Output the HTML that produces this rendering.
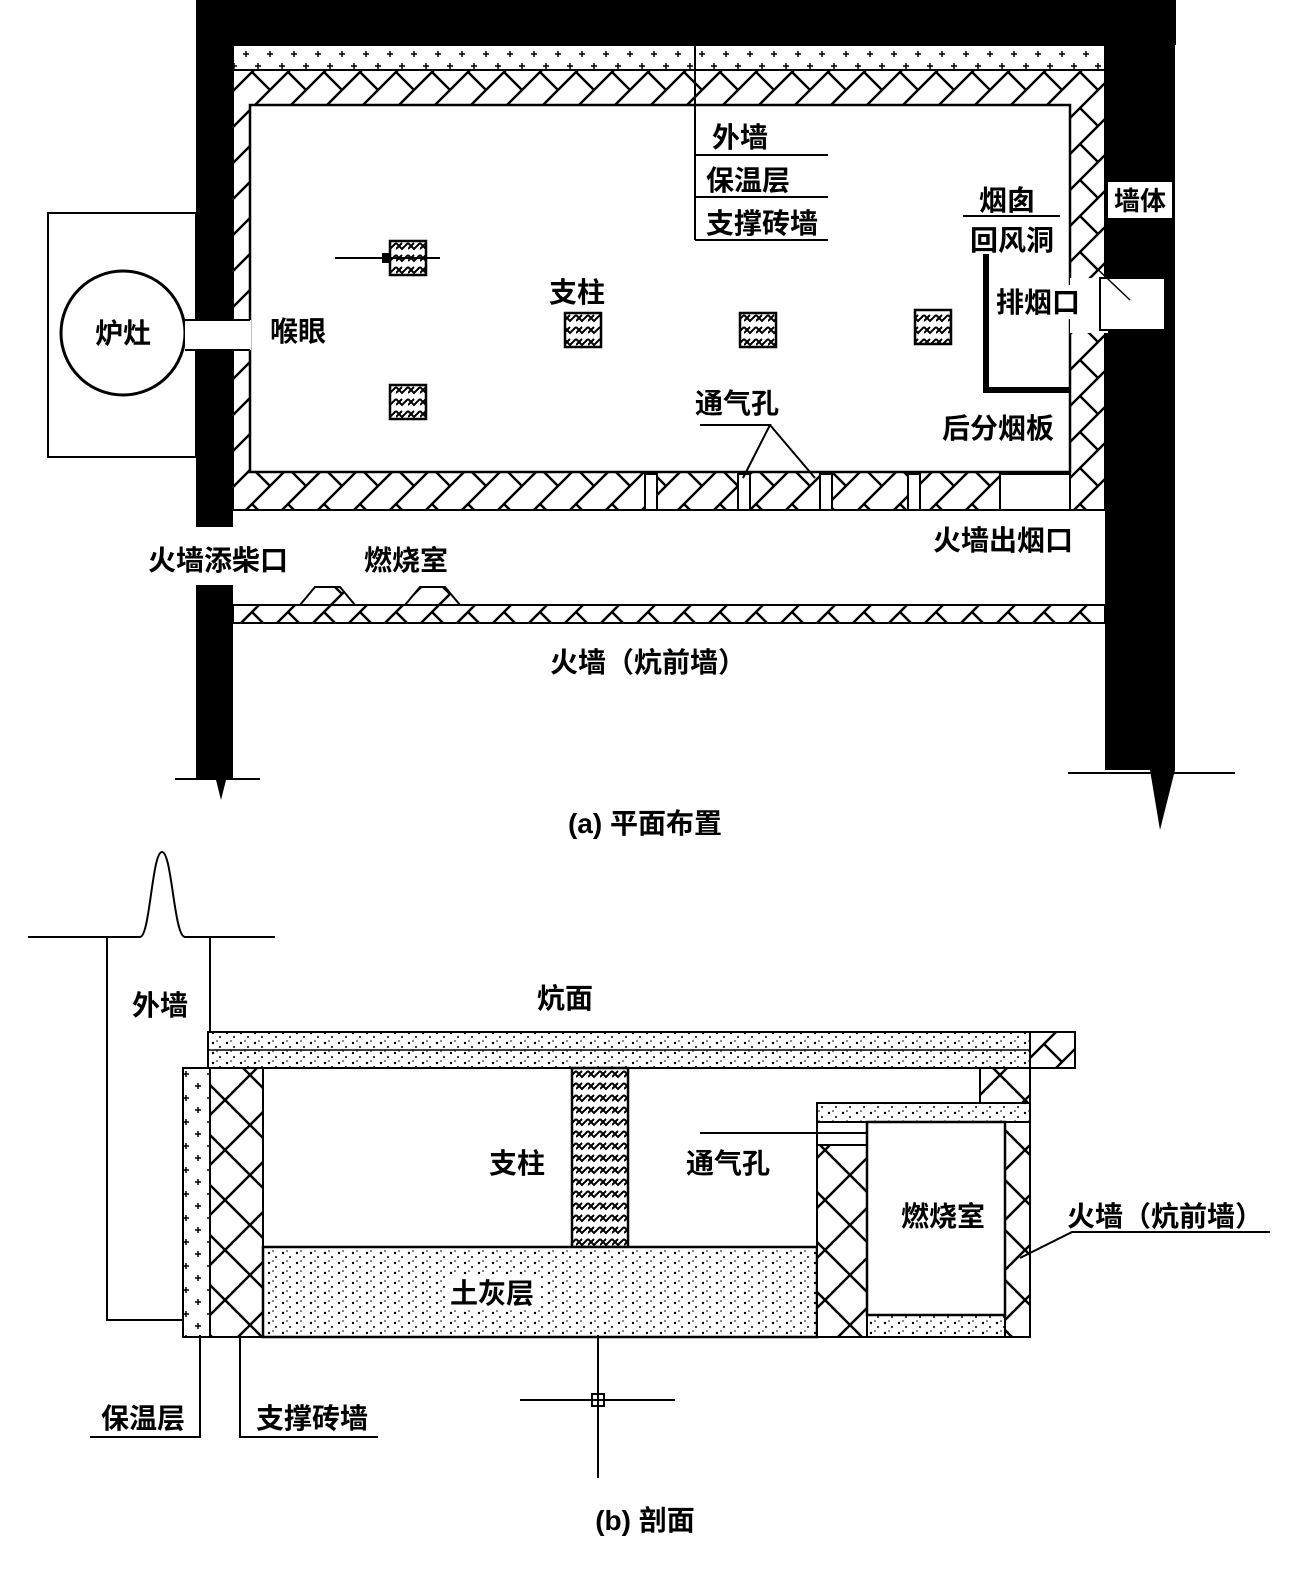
<!DOCTYPE html>
<html><head><meta charset="utf-8"><style>
html,body{margin:0;padding:0;background:#fff;}
svg{display:block;}
text{font-family:"Liberation Sans","Noto Sans CJK SC",sans-serif;font-weight:bold;fill:#000;}
</style></head><body>
<svg width="1304" height="1589" viewBox="0 0 1304 1589" xmlns="http://www.w3.org/2000/svg">
<defs>
<pattern id="hatch" width="36" height="36" patternUnits="userSpaceOnUse">
<rect width="36" height="36" fill="#fff"/>
<path d="M0 36 L36 0 M-9 9 L9 -9 M27 45 L45 27" stroke="#000" stroke-width="2.5"/>
<path d="M0 0 L18 18" stroke="#000" stroke-width="2.5"/>
</pattern>
<pattern id="hatchV" width="50" height="50" patternUnits="userSpaceOnUse">
<rect width="50" height="50" fill="#fff"/>
<path d="M0 25 L25 0 L50 25 L25 50 Z" stroke="#000" stroke-width="2.5" fill="none"/>
</pattern>
<pattern id="dots" width="14" height="10" patternUnits="userSpaceOnUse">
<rect width="14" height="10" fill="#fff"/>
<circle cx="3" cy="3" r="1.2" fill="#000"/><circle cx="10" cy="7" r="1" fill="#000"/><circle cx="7" cy="1" r="0.8" fill="#000"/>
</pattern>
<pattern id="plus" width="24" height="24" patternUnits="userSpaceOnUse">
<rect width="24" height="24" fill="#fff"/>
<path d="M6 3v6M3 6h6M18 15v6M15 18h6" stroke="#000" stroke-width="1.5"/>
</pattern>
<pattern id="herr" width="12" height="12" patternUnits="userSpaceOnUse">
<rect width="12" height="12" fill="#fff"/>
<path d="M0 3 L6 9 L12 3 M0 9 L6 3" stroke="#000" stroke-width="2" fill="none"/>
</pattern>
</defs>

<!-- ============ (a) plan ============ -->
<!-- black walls -->
<rect x="196" y="0" width="980" height="45" fill="#000"/>
<rect x="196" y="0" width="37" height="527" fill="#000"/>
<rect x="196" y="585" width="37" height="195" fill="#000"/>
<polygon points="196,780 233,780 226,780 221,800 216,780" fill="#000"/>
<line x1="175" y1="779" x2="260" y2="779" stroke="#000" stroke-width="2"/>
<rect x="1105" y="0" width="70" height="770" fill="#000"/>
<polygon points="1105,770 1175,770 1160,830 1150,770 1140,770" fill="#000"/>
<line x1="1068" y1="773" x2="1235" y2="773" stroke="#000" stroke-width="2"/>
<!-- insulation -->
<rect x="233" y="45" width="872" height="25" fill="url(#plus)" stroke="#000" stroke-width="2"/>
<!-- brick layer -->
<rect x="233" y="70" width="872" height="440" fill="url(#hatch)" stroke="#000" stroke-width="2"/>
<rect x="250" y="105" width="820" height="367" fill="#fff" stroke="#000" stroke-width="2.5"/>
<!-- bottom vent gaps -->
<g stroke="#000" stroke-width="2">
<rect x="645" y="474" width="12" height="36" fill="#fff"/>
<rect x="738" y="474" width="12" height="36" fill="#fff"/>
<rect x="820" y="474" width="12" height="36" fill="#fff"/>
<rect x="908" y="474" width="12" height="36" fill="#fff"/>
<rect x="1000" y="474" width="70" height="36" fill="#fff"/>
</g>
<!-- right opening -->
<rect x="1070" y="278" width="38" height="55" fill="#fff"/>
<rect x="1100" y="278" width="65" height="52" fill="#fff" stroke="#000" stroke-width="2"/>
<line x1="1090" y1="262" x2="1130" y2="300" stroke="#000" stroke-width="1.5"/>
<rect x="1108" y="182" width="64" height="36" fill="#fff"/>
<text x="1140" y="210" font-size="26" text-anchor="middle">墙体</text>
<!-- 后分烟板 -->
<path d="M986 250 V390 H1070" stroke="#000" stroke-width="6" fill="none"/>
<!-- stove -->
<rect x="48" y="213" width="148" height="244" fill="#fff" stroke="#000" stroke-width="2"/>
<circle cx="123" cy="333" r="62" fill="#fff" stroke="#000" stroke-width="3"/>
<text x="123" y="343" font-size="28" text-anchor="middle">炉灶</text>
<rect x="185" y="320" width="66" height="30" fill="#fff"/>
<line x1="185" y1="320" x2="250" y2="320" stroke="#000" stroke-width="2"/>
<line x1="185" y1="350" x2="250" y2="350" stroke="#000" stroke-width="2"/>
<!-- pillars -->
<g stroke="#000" stroke-width="2.5" fill="url(#herr)">
<rect x="390" y="241" width="36" height="34"/>
<rect x="565" y="313" width="36" height="34"/>
<rect x="740" y="313" width="36" height="34"/>
<rect x="915" y="310" width="36" height="34"/>
<rect x="390" y="385" width="36" height="34"/>
</g>
<line x1="335" y1="258" x2="440" y2="258" stroke="#000" stroke-width="2"/>
<rect x="382" y="253" width="8" height="10" fill="#000"/>
<!-- labels -->
<line x1="695" y1="0" x2="695" y2="240" stroke="#000" stroke-width="2"/>
<g stroke="#000" stroke-width="2">
<line x1="695" y1="155" x2="828" y2="155"/>
<line x1="695" y1="197" x2="828" y2="197"/>
<line x1="695" y1="240" x2="828" y2="240"/>
</g>
<rect x="700" y="115" width="128" height="39" fill="#fff"/>
<rect x="698" y="158" width="128" height="37" fill="#fff"/>
<rect x="698" y="200" width="128" height="38" fill="#fff"/>
<text x="740" y="147" font-size="28" text-anchor="middle">外墙</text>
<text x="748" y="190" font-size="28" text-anchor="middle">保温层</text>
<text x="762" y="233" font-size="28" text-anchor="middle">支撑砖墙</text>
<text x="577" y="302" font-size="28" text-anchor="middle">支柱</text>
<text x="298" y="341" font-size="28" text-anchor="middle">喉眼</text>
<text x="737" y="413" font-size="28" text-anchor="middle">通气孔</text>
<path d="M700 425 H770 L743 478 M770 425 L815 478" stroke="#000" stroke-width="2" fill="none"/>
<rect x="935" y="408" width="130" height="34" fill="#fff"/>
<text x="998" y="438" font-size="28" text-anchor="middle">后分烟板</text>
<rect x="968" y="183" width="95" height="32" fill="#fff"/>
<text x="1007" y="210" font-size="28" text-anchor="middle">烟囱</text>
<line x1="963" y1="216" x2="1060" y2="216" stroke="#000" stroke-width="2"/>
<rect x="965" y="222" width="100" height="32" fill="#fff"/>
<text x="1012" y="250" font-size="28" text-anchor="middle">回风洞</text>
<rect x="992" y="285" width="95" height="34" fill="#fff"/>
<text x="1038" y="312" font-size="28" text-anchor="middle">排烟口</text>
<!-- fire wall -->
<rect x="233" y="605" width="872" height="18" fill="url(#hatch)" stroke="#000" stroke-width="2"/>
<polygon points="300,605 315,587 340,587 355,605" fill="url(#hatch)" stroke="#000" stroke-width="2"/>
<polygon points="405,605 420,587 445,587 460,605" fill="url(#hatch)" stroke="#000" stroke-width="2"/>
<text x="218" y="570" font-size="28" text-anchor="middle">火墙添柴口</text>
<text x="406" y="570" font-size="28" text-anchor="middle">燃烧室</text>
<text x="1003" y="550" font-size="28" text-anchor="middle">火墙出烟口</text>
<text x="648" y="672" font-size="28" text-anchor="middle">火墙（炕前墙）</text>
<text x="645" y="833" font-size="28" text-anchor="middle">(a) 平面布置</text>

<!-- ============ (b) section ============ -->
<path d="M28 937 H107 V1320 H183 M107 937 H140 C150 937 152 852 162 852 C172 852 174 937 185 937 H275 M210 937 V1035" stroke="#000" stroke-width="2" fill="none"/>
<text x="160" y="1015" font-size="28" text-anchor="middle">外墙</text>
<text x="565" y="1008" font-size="28" text-anchor="middle">炕面</text>
<rect x="208" y="1032" width="867" height="36" fill="url(#dots)" stroke="#000" stroke-width="2"/>
<line x1="208" y1="1050" x2="1075" y2="1050" stroke="#000" stroke-width="1.5"/>
<rect x="1030" y="1032" width="45" height="36" fill="url(#hatch)" stroke="#000" stroke-width="2"/>
<rect x="183" y="1068" width="27" height="269" fill="url(#plus)" stroke="#000" stroke-width="2"/>
<rect x="210" y="1068" width="53" height="269" fill="url(#hatchV)" stroke="#000" stroke-width="2"/>
<rect x="572" y="1068" width="56" height="179" fill="url(#herr)" stroke="#000" stroke-width="2.5"/>
<rect x="263" y="1247" width="554" height="90" fill="url(#dots)" stroke="#000" stroke-width="2.5"/>
<rect x="450" y="1275" width="90" height="34" fill="#fff"/>
<text x="492" y="1303" font-size="28" text-anchor="middle">土灰层</text>
<rect x="980" y="1068" width="50" height="35" fill="url(#hatchV)" stroke="#000" stroke-width="2"/>
<rect x="817" y="1103" width="213" height="19" fill="url(#dots)" stroke="#000" stroke-width="2"/>
<rect x="817" y="1145" width="50" height="192" fill="url(#hatchV)" stroke="#000" stroke-width="2"/>
<rect x="1005" y="1122" width="25" height="215" fill="url(#hatchV)" stroke="#000" stroke-width="2"/>
<rect x="867" y="1315" width="138" height="22" fill="url(#dots)" stroke="#000" stroke-width="2"/>
<rect x="867" y="1122" width="138" height="193" fill="#fff" stroke="#000" stroke-width="2.5"/>
<line x1="817" y1="1122" x2="817" y2="1145" stroke="#000" stroke-width="2"/>
<text x="517" y="1173" font-size="28" text-anchor="middle">支柱</text>
<text x="728" y="1173" font-size="28" text-anchor="middle">通气孔</text>
<line x1="700" y1="1133" x2="867" y2="1133" stroke="#000" stroke-width="2"/>
<text x="943" y="1226" font-size="28" text-anchor="middle">燃烧室</text>
<text x="1165" y="1226" font-size="28" text-anchor="middle">火墙（炕前墙）</text>
<path d="M1020 1258 L1072 1232 H1270" stroke="#000" stroke-width="2" fill="none"/>
<text x="143" y="1428" font-size="28" text-anchor="middle">保温层</text>
<path d="M200 1335 V1437 H90" stroke="#000" stroke-width="2" fill="none"/>
<text x="312" y="1428" font-size="28" text-anchor="middle">支撑砖墙</text>
<path d="M240 1335 V1437 H378" stroke="#000" stroke-width="2" fill="none"/>
<line x1="520" y1="1400" x2="675" y2="1400" stroke="#000" stroke-width="2"/>
<line x1="598" y1="1335" x2="598" y2="1478" stroke="#000" stroke-width="2"/>
<rect x="592" y="1394" width="12" height="12" fill="none" stroke="#000" stroke-width="2"/>
<text x="645" y="1530" font-size="28" text-anchor="middle">(b) 剖面</text>
</svg>
</body></html>
